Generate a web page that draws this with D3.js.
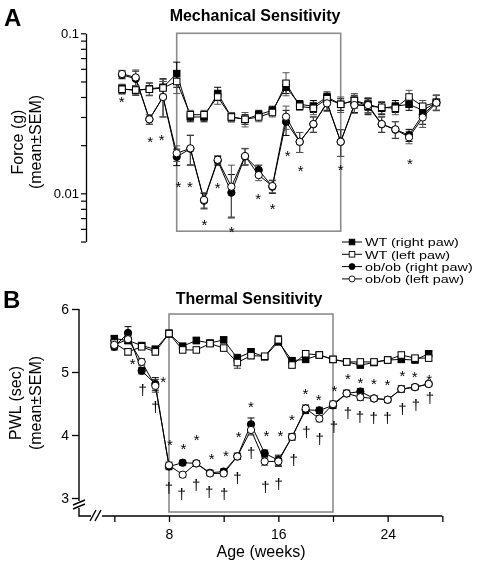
<!DOCTYPE html>
<html><head><meta charset="utf-8">
<script src="https://cdn.jsdelivr.net/npm/d3@7"></script>
<style>
body{margin:0;background:#fff}
svg{opacity:0.999;will-change:transform}
svg text{font-family:"Liberation Sans",Arial,Helvetica,sans-serif;fill:#000}
</style>
</head><body>
<svg id="c" width="480" height="564"></svg>
<script>
// ---------- DATA ----------
const weeks = [4,5,6,7,8,9,10,11,12,13,14,15,16,17,18,19,20,21,22,23,24,25,26,27];

// Panel A: mechanical sensitivity, force (g)
const mechWTRight = [0.045,0.044,0.045,0.046,0.056,0.030,0.030,0.042,0.030,0.029,0.031,0.033,0.046,0.036,0.035,0.040,0.036,0.038,0.036,0.034,0.035,0.036,0.033,0.037];
const mechWTRightErr = [0.003,0.003,0.004,0.006,0.010,0.002,0.002,0.004,0.002,0.002,0.002,0.002,0.004,0.002,0.003,0.003,0.003,0.003,0.003,0.003,0.003,0.003,0.003,0.004];
const mechWTLeft = [0.0447,0.0442,0.0447,0.0455,0.050,0.031,0.031,0.040,0.030,0.029,0.030,0.032,0.0487,0.035,0.034,0.039,0.036,0.038,0.035,0.0345,0.034,0.040,0.035,0.037];
const mechWTLeftErr = [0.003,0.003,0.004,0.006,0.008,0.002,0.002,0.004,0.002,0.003,0.002,0.002,0.008,0.002,0.003,0.003,0.004,0.004,0.003,0.003,0.003,0.004,0.003,0.004];
const mechObRight = [0.055,0.052,0.029,0.040,0.0169,0.019,0.009,0.016,0.0101,0.017,0.014,0.011,0.028,0.021,0.027,0.037,0.021,0.036,0.035,0.027,0.025,0.0231,0.031,0.037];
const mechObRightErr = [0.003,0.006,0.002,0.010,0.002,0.004,0.001,0.001,0.003,0.002,0.001,0.001,0.005,0.003,0.003,0.004,0.004,0.004,0.004,0.003,0.003,0.002,0.004,0.004];
const mechObLeft = [0.0557,0.053,0.029,0.040,0.0178,0.0191,0.0091,0.0162,0.011,0.0171,0.013,0.0111,0.0301,0.021,0.0271,0.0365,0.021,0.0356,0.0356,0.0271,0.0251,0.0224,0.0298,0.0368];
const mechObLeftErr = [0.003,0.006,0.002,0.010,0.002,0.004,0.001,0.001,0.004,0.002,0.001,0.001,0.005,0.003,0.003,0.004,0.004,0.004,0.004,0.003,0.003,0.002,0.004,0.004];
const mechStars = [[3.98,0.0389],[6.05,0.0221],[6.9,0.0226],[8.12,0.01155],[8.97,0.01155],[10.02,0.00665],[11.0,0.01143],[12.02,0.00604],[13.97,0.00975],[15.02,0.00845],[16.12,0.01795],[17.07,0.01454],[20.0,0.01466],[25.07,0.01615]];

// Panel B: thermal sensitivity, PWL (sec)
const thermWTRight = [5.53,5.50,5.42,5.36,5.61,5.41,5.50,5.46,5.51,5.22,5.32,5.24,5.48,5.18,5.20,5.27,5.20,5.16,5.11,5.15,5.19,5.20,5.19,5.29];
const thermWTRightErr = [0.04,0.05,0.04,0.05,0.05,0.04,0.05,0.04,0.04,0.06,0.05,0.04,0.05,0.04,0.04,0.04,0.03,0.03,0.03,0.03,0.03,0.04,0.04,0.04];
const thermWTLeft = [5.46,5.32,5.40,5.32,5.61,5.35,5.35,5.45,5.38,5.15,5.26,5.25,5.51,5.11,5.29,5.27,5.20,5.16,5.16,5.16,5.19,5.27,5.22,5.22];
const thermWTLeftErr = [0.04,0.05,0.04,0.05,0.06,0.04,0.04,0.04,0.04,0.09,0.05,0.04,0.07,0.04,0.04,0.04,0.03,0.03,0.03,0.03,0.03,0.04,0.04,0.04];
const thermObRight = [5.40,5.62,5.02,4.81,3.50,3.56,3.55,3.40,3.42,3.66,4.17,3.71,3.60,3.97,4.40,4.39,4.47,4.66,4.69,4.58,4.56,4.73,4.76,4.81];
const thermObRightErr = [0.05,0.10,0.05,0.10,0.05,0.04,0.04,0.04,0.04,0.05,0.10,0.05,0.08,0.05,0.06,0.05,0.05,0.05,0.05,0.04,0.04,0.05,0.04,0.04];
const thermObLeft = [5.43,5.52,5.16,4.78,3.52,3.37,3.55,3.39,3.39,3.66,4.08,3.58,3.58,3.97,4.42,4.26,4.49,4.66,4.60,4.58,4.56,4.73,4.76,4.81];
const thermObLeftErr = [0.05,0.06,0.05,0.10,0.05,0.04,0.04,0.04,0.04,0.05,0.08,0.06,0.08,0.05,0.06,0.05,0.05,0.05,0.05,0.04,0.04,0.05,0.04,0.04];
const thermStars = [[5.34,5.18],[7.58,4.90],[8.07,3.89],[9.05,3.83],[10.03,3.97],[11.13,3.68],[12.16,3.72],[13.09,4.03],[14.0,4.50],[15.12,4.04],[16.15,4.04],[17.0,4.29],[17.98,4.71],[18.96,4.61],[20.11,4.76],[21.09,4.94],[22.0,4.88],[23.0,4.87],[23.98,4.85],[25.08,5.0],[25.98,4.97],[27.03,4.93]];
const thermDaggers = [[6.07,4.71],[7.0,4.45],[8.0,3.16],[8.93,3.07],[9.98,3.21],[10.94,3.10],[12.04,3.07],[13.01,3.31],[14.02,3.71],[15.05,3.18],[16.02,3.23],[17.12,3.60],[18.06,4.04],[19.03,3.93],[20.06,4.13],[21.09,4.35],[21.97,4.28],[22.97,4.27],[23.98,4.27],[25.08,4.42],[26.06,4.48],[27.1,4.58]];

const xTicks = [4,8,12,16,20,24,28];
const xTickLabels = [8,16,24];
const mechTicks = [0.005,0.006,0.007,0.008,0.009,0.01,0.02,0.03,0.04,0.05,0.06,0.07,0.08,0.09,0.1];
const mechTickLabels = [0.01,0.1];
const thermTicks = [3,4,5,6];
const boxWeeks = [8,20];

const legendItems = [
  {label:"WT (right paw)", shape:"square", filled:true},
  {label:"WT (left paw)", shape:"square", filled:false},
  {label:"ob/ob (right paw)", shape:"circle", filled:true},
  {label:"ob/ob (left paw)", shape:"circle", filled:false}
];

// ---------- DRAW ----------
const svg = d3.select("#c");
svg.append("rect").attr("width",480).attr("height",564).attr("fill","#fff");
const FONT = '"Liberation Sans",Arial,Helvetica,sans-serif';
const GRAY = "#8c8c8c";

const xA = d3.scaleLinear().domain([8,20]).range([176.7,340.7]);
const yA = d3.scaleLog().domain([0.005,0.1]).range([241.5,33.3]);
const xB = d3.scaleLinear().domain([8,20]).range([169,333]);
const yB = d3.scaleLinear().domain([3,6]).range([498,309]);

function drawBox(x, y, top, bottomPx) {
  svg.append("rect")
    .attr("x", x(boxWeeks[0])).attr("y", y(top))
    .attr("width", x(boxWeeks[1]) - x(boxWeeks[0]))
    .attr("height", bottomPx - y(top))
    .attr("fill","none").attr("stroke",GRAY).attr("stroke-width",1.6);
}

function marker(g, shape, filled, cx, cy, s) {
  if (shape === "square") {
    g.append("rect").attr("x",cx-s/2).attr("y",cy-s/2).attr("width",s).attr("height",s)
      .attr("fill", filled ? "#000" : "#fff").attr("stroke","#000").attr("stroke-width",1);
  } else {
    g.append("circle").attr("cx",cx).attr("cy",cy).attr("r",s/2+0.4)
      .attr("fill", filled ? "#000" : "#fff").attr("stroke","#000").attr("stroke-width",1);
  }
}

function drawPanel(x, y, series) {
  const g = svg.append("g");
  const line = d3.line().x((d,i)=>x(weeks[i])).y(d=>y(d));
  series.forEach(s => {
    g.append("path").datum(s.vals).attr("d", line)
      .attr("fill","none").attr("stroke","#000").attr("stroke-width",1);
  });
  series.forEach(s => {
    s.vals.forEach((v,i) => {
      const cx = x(weeks[i]);
      const y1 = y(v + s.errs[i]), y2 = y(Math.max(v - s.errs[i], 1e-4));
      const col = s.errColor;
      g.append("line").attr("x1",cx).attr("x2",cx).attr("y1",y1).attr("y2",y2).attr("stroke",col).attr("stroke-width",1);
      [y1,y2].forEach(yy => g.append("line").attr("x1",cx-3.5).attr("x2",cx+3.5).attr("y1",yy).attr("y2",yy).attr("stroke",col).attr("stroke-width",1));
    });
  });
  series.forEach(s => {
    s.vals.forEach((v,i) => marker(g, s.shape, s.filled, x(weeks[i]), y(v), 6.5));
  });
}

function annotate(x, y, pts, ch, size, dy) {
  svg.append("g").selectAll("text").data(pts).join("text")
    .attr("x", d=>x(d[0])).attr("y", d=>y(d[1]) + dy)
    .attr("text-anchor","middle").style("font-size", size+"px").style("fill","#000").text(ch);
}

// Boxes
drawBox(xA, yA, 0.1, yA(0.0058));
drawBox(xB, yB, 5.92, yB(3) + 14);

// Panel A
drawPanel(xA, yA, [
  {vals:mechWTRight, errs:mechWTRightErr, shape:"square", filled:true, errColor:"#000"},
  {vals:mechObRight, errs:mechObRightErr, shape:"circle", filled:true, errColor:"#000"},
  {vals:mechWTLeft, errs:mechWTLeftErr, shape:"square", filled:false, errColor:"#555"},
  {vals:mechObLeft, errs:mechObLeftErr, shape:"circle", filled:false, errColor:"#555"}
]);
annotate(xA, yA, mechStars, "*", 15, 8.5);

// Panel A axis
const axA = svg.append("g").attr("transform","translate(86,0)")
  .call(d3.axisLeft(yA).tickValues(mechTicks).tickSize(5).tickSizeOuter(0)
    .tickFormat(d => mechTickLabels.some(t => Math.abs(t-d) < 1e-9) ? String(d) : ""));
axA.selectAll("text").style("font-size","13px").style("font-family",FONT).attr("x",-7);
axA.select(".domain").attr("stroke-width",1.3);
axA.selectAll(".tick line").attr("stroke-width",1.2);

// Panel B
drawPanel(xB, yB, [
  {vals:thermWTRight, errs:thermWTRightErr, shape:"square", filled:true, errColor:"#000"},
  {vals:thermObRight, errs:thermObRightErr, shape:"circle", filled:true, errColor:"#000"},
  {vals:thermWTLeft, errs:thermWTLeftErr, shape:"square", filled:false, errColor:"#333"},
  {vals:thermObLeft, errs:thermObLeftErr, shape:"circle", filled:false, errColor:"#333"}
]);
annotate(xB, yB, thermStars, "*", 15, 8.5);
annotate(xB, yB, thermDaggers, "\u2020", 15, 5);

// Panel B axes with breaks
const axisX = 79, axisY = yB(3) + 18;
const axBy = svg.append("g").attr("transform",`translate(${axisX},0)`)
  .call(d3.axisLeft(yB).tickValues(thermTicks).tickSize(7).tickSizeOuter(0).tickFormat(d3.format("d")));
axBy.select(".domain").remove();
axBy.selectAll("text").style("font-size","14px").style("font-family",FONT).attr("x",-10);
axBy.selectAll(".tick line").attr("stroke-width",1.3);
const axBx = svg.append("g").attr("transform",`translate(0,${axisY})`)
  .call(d3.axisBottom(xB).tickValues(xTicks).tickSize(6).tickSizeOuter(0)
    .tickFormat(d => xTickLabels.includes(d) ? String(d) : ""));
axBx.select(".domain").remove();
axBx.selectAll("text").style("font-size","14px").style("font-family",FONT).attr("y",13);
axBx.selectAll(".tick line").attr("stroke-width",1.3);

const ax = svg.append("g").attr("stroke","#000").attr("stroke-width",1.4).attr("fill","none");
const y3 = yB(3);
ax.append("path").attr("d",`M${axisX},${yB(6)}V${y3+3}`);
ax.append("path").attr("d",`M${axisX},${y3+10}V${axisY}H${axisX+12}`);
ax.append("path").attr("d",`M${axisX+23},${axisY}H${xB(28)}`);
// break marks
[[y3+4.5],[y3+8.5]].forEach(([yy]) => ax.append("path").attr("d",`M${axisX-6},${yy+2.5}L${axisX+6},${yy-2.5}`));
[axisX+14, axisX+19].forEach(xx => ax.append("path").attr("d",`M${xx-3},${axisY+5}L${xx+3},${axisY-6}`));

// Titles and labels
function txt(x, y, s, size, opts={}) {
  const t = svg.append("text").attr("x",x).attr("y",y).text(s).style("font-size",size+"px")
    .attr("text-anchor", opts.anchor || "middle");
  if (opts.bold) t.style("font-weight","bold");
  if (opts.rotate) t.attr("transform",`rotate(-90,${x},${y})`);
  return t;
}
txt(4, 26, "A", 24, {bold:true, anchor:"start"});
txt(3, 308, "B", 24, {bold:true, anchor:"start"});
txt(255, 21, "Mechanical Sensitivity", 16, {bold:true});
txt(249, 304, "Thermal Sensitivity", 16, {bold:true});
txt(23, 142, "Force (g)", 16, {rotate:true});
txt(41, 142, "(mean\u00b1SEM)", 16, {rotate:true});
txt(21, 403, "PWL (sec)", 16, {rotate:true});
txt(41, 403, "(mean\u00b1SEM)", 16, {rotate:true});
txt(261, 557, "Age (weeks)", 16);

// Legend
const lg = svg.append("g");
legendItems.forEach((d,i) => {
  const cy = 242 + i*12.3;
  lg.append("line").attr("x1",342).attr("x2",362).attr("y1",cy).attr("y2",cy).attr("stroke","#000").attr("stroke-width",1);
  if (d.shape === "square") {
    lg.append("rect").attr("x",352-2.8).attr("y",cy-2.8).attr("width",5.6).attr("height",5.6)
      .attr("fill", d.filled ? "#000" : "#fff").attr("stroke","#000").attr("stroke-width",0.9);
  } else {
    lg.append("circle").attr("cx",352).attr("cy",cy).attr("r",3)
      .attr("fill", d.filled ? "#000" : "#fff").attr("stroke","#000").attr("stroke-width",0.9);
  }
  lg.append("text").attr("transform",`translate(365,${cy+4.2}) scale(1.25,1)`)
    .style("font-size","11.5px").text(d.label);
});
</script>
</body></html>
